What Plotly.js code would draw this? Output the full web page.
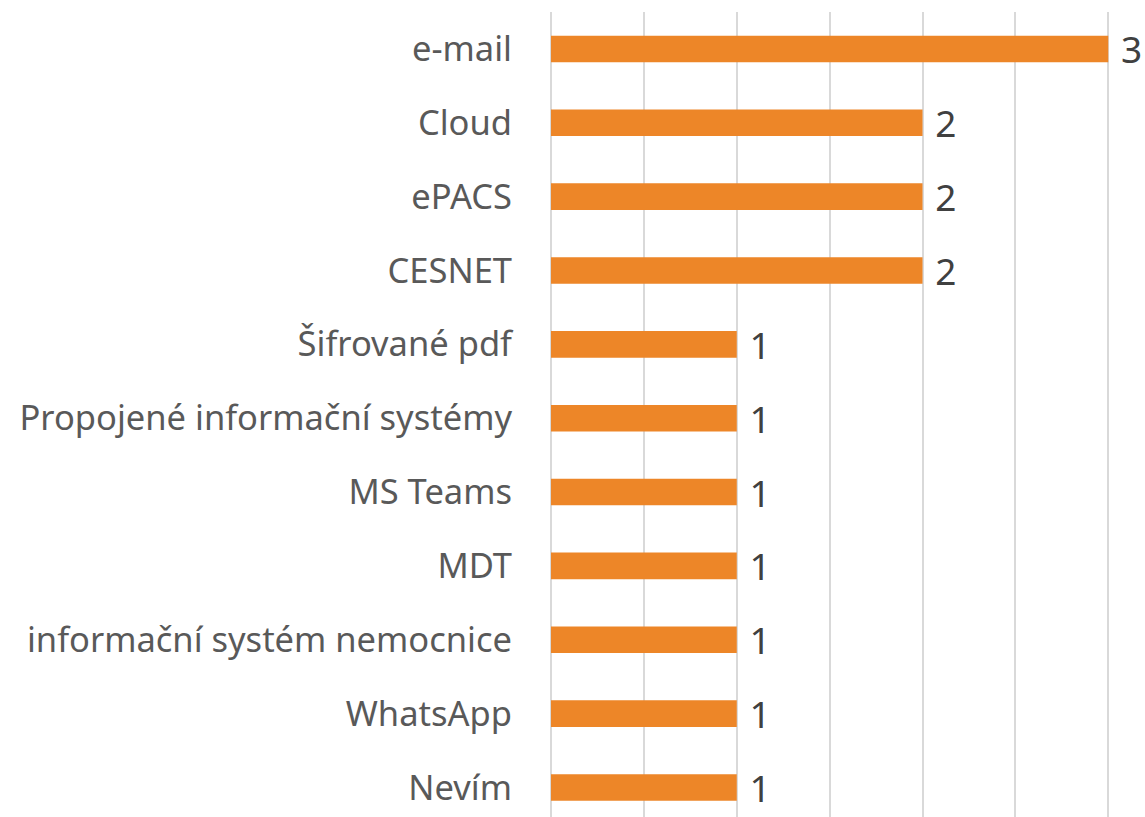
<!DOCTYPE html>
<html>
<head>
<meta charset="utf-8">
<script src="https://cdn.plot.ly/plotly-3.0.1.min.js"></script>
<style>html,body{margin:0;padding:0;background:#fff;}#chart{width:1145px;height:817px;}</style>
</head>
<body>
<div id="chart"></div>
<script>
const categories = ["e-mail", "Cloud", "ePACS", "CESNET", "Šifrované pdf", "Propojené informační systémy", "MS Teams", "MDT", "informační systém nemocnice", "WhatsApp", "Nevím"];
const counts = [3, 2, 2, 2, 1, 1, 1, 1, 1, 1, 1];

const trace = {
  type: 'bar',
  orientation: 'h',
  y: categories,
  x: counts,
  marker: {color: '#ED8628'},
  texttemplate: ' %{x}',
  textposition: 'outside',
  constraintext: 'none',
  cliponaxis: false,
  textfont: {family: 'Noto Sans, Open Sans, sans-serif', size: 37, color: '#404040'},
  hoverinfo: 'x+y'
};

const layout = {
  width: 1145, height: 817,
  margin: {l: 551, r: 33, t: 12, b: 0, pad: 0},
  paper_bgcolor: '#fff', plot_bgcolor: '#fff',
  bargap: 0.64,
  showlegend: false,
  xaxis: {
    range: [0, 3.02], dtick: 0.5, tick0: 0,
    showticklabels: false, ticks: '',
    showgrid: true, gridcolor: '#D9D9D9', gridwidth: 2,
    zeroline: true, zerolinecolor: '#D9D9D9', zerolinewidth: 2,
    showline: false, fixedrange: true
  },
  yaxis: {
    type: 'category',
    range: [10.4, -0.5],
    showgrid: false, zeroline: false, showline: false, ticks: '',
    ticklabelstandoff: 38,
    tickfont: {family: 'Noto Sans, Open Sans, sans-serif', size: 34.5, color: '#595959'},
    fixedrange: true
  }
};

Plotly.newPlot('chart', [trace], layout, {displayModeBar: false, staticPlot: true});
</script>
</body>
</html>
